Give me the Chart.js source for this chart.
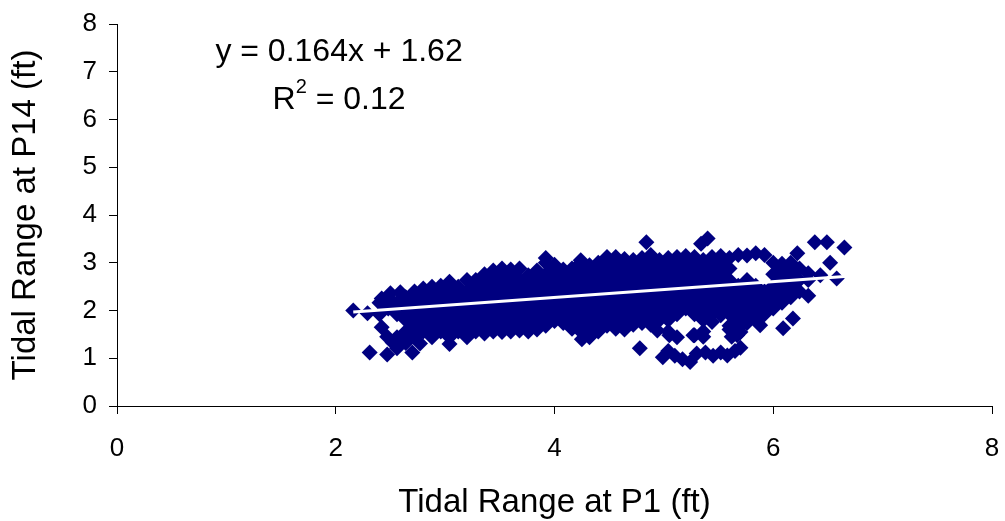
<!DOCTYPE html>
<html>
<head>
<meta charset="utf-8">
<script src="https://cdn.jsdelivr.net/npm/chart.js@4.4.1/dist/chart.umd.min.js"></script>
<style>
  html, body { margin: 0; padding: 0; background: #ffffff; }
  #wrap { width: 1005px; height: 521px; }
</style>
</head>
<body>
<div id="wrap"><canvas id="c" width="1005" height="521"></canvas></div>
<script>
// ---- Data (Tidal Range at P1 vs P14, ft) ----
// Dense body of the cloud: one x per column, list of y values in that column
const coreP1 = [2.40, 2.48, 2.56, 2.64, 2.72, 2.80, 2.88, 2.96, 3.04, 3.12,
                3.20, 3.28, 3.36, 3.44, 3.52, 3.60, 3.68, 3.76, 3.84, 3.92,
                4.00, 4.08, 4.16, 4.24, 4.32, 4.40, 4.48, 4.56, 4.64, 4.72,
                4.80, 4.88, 4.96, 5.04, 5.12, 5.20, 5.28, 5.36, 5.44, 5.52,
                5.60, 5.68, 5.76, 5.84, 5.92, 6.00, 6.08, 6.16, 6.24, 6.32];
const coreP14 = [
  [1.92, 2.16],
  [2.04, 2.28],
  [1.44, 1.92, 2.16],
  [1.32, 1.56, 1.80, 2.04, 2.28],
  [1.44, 1.68, 1.92, 2.16, 2.40],
  [1.56, 1.80, 2.04, 2.28, 2.46],
  [1.44, 1.68, 1.92, 2.16, 2.40, 2.50],
  [1.56, 1.80, 2.04, 2.28, 2.52],
  [1.30, 1.44, 1.68, 1.92, 2.16, 2.40, 2.60],
  [1.56, 1.80, 2.04, 2.28, 2.50],
  [1.44, 1.68, 1.92, 2.16, 2.40, 2.64],
  [1.56, 1.80, 2.04, 2.28, 2.52, 2.64],
  [1.52, 1.68, 1.92, 2.16, 2.40, 2.64, 2.76],
  [1.56, 1.80, 2.04, 2.28, 2.52, 2.76, 2.84],
  [1.55, 1.68, 1.92, 2.16, 2.40, 2.64, 2.88],
  [1.56, 1.80, 2.04, 2.28, 2.52, 2.76, 2.86],
  [1.58, 1.68, 1.92, 2.16, 2.40, 2.64, 2.88],
  [1.56, 1.80, 2.04, 2.28, 2.52, 2.74],
  [1.60, 1.68, 1.92, 2.16, 2.40, 2.64, 2.84],
  [1.68, 1.80, 2.04, 2.28, 2.52, 2.76, 3.00, 3.10],
  [1.78, 1.92, 2.16, 2.40, 2.64, 2.88, 2.96],
  [1.74, 1.80, 2.04, 2.28, 2.52, 2.76, 2.86],
  [1.62, 1.68, 1.92, 2.16, 2.40, 2.64, 2.88],
  [1.56, 1.80, 2.04, 2.28, 2.52, 2.76, 3.00, 3.05],
  [1.44, 1.68, 1.92, 2.16, 2.40, 2.64, 2.88, 2.95],
  [1.56, 1.80, 2.04, 2.28, 2.52, 2.76, 3.00],
  [1.68, 1.92, 2.16, 2.40, 2.64, 2.88, 3.12],
  [1.62, 1.80, 2.04, 2.28, 2.52, 2.76, 3.00, 3.12],
  [1.60, 1.68, 1.92, 2.16, 2.40, 2.64, 2.88, 3.08],
  [1.70, 1.80, 2.04, 2.28, 2.52, 2.76, 3.00, 3.06],
  [1.74, 1.92, 2.16, 2.40, 2.64, 2.88, 3.10],
  [1.70, 1.80, 2.04, 2.28, 2.52, 2.76, 3.00, 3.16],
  [1.80, 1.92, 2.16, 2.40, 2.64, 2.88, 3.06],
  [1.56, 1.80, 2.04, 2.28, 2.52, 2.76, 3.00, 3.10],
  [1.44, 1.92, 2.16, 2.40, 2.64, 2.88, 3.12],
  [2.04, 2.28, 2.52, 2.76, 3.00, 3.14],
  [1.48, 1.92, 2.16, 2.40, 2.64, 2.88, 3.12],
  [1.56, 1.80, 2.04, 2.28, 2.52, 2.76, 3.00, 3.06],
  [1.76, 1.92, 2.16, 2.40, 2.64, 2.88, 3.12],
  [1.90, 2.04, 2.28, 2.52, 2.76, 3.00, 3.14],
  [1.60, 1.68, 1.92, 2.16, 2.40, 2.64, 2.88, 3.10],
  [1.64, 1.80, 2.04, 2.28, 2.52, 3.16],
  [1.74, 1.92, 2.16, 2.40, 2.64, 3.15],
  [1.80, 2.04, 2.28, 2.52, 3.20],
  [1.92, 2.16, 2.40, 3.16],
  [2.04, 2.28, 2.52, 2.76, 3.00],
  [2.16, 2.40, 2.64, 2.88, 2.98],
  [2.28, 2.52, 2.76, 3.00],
  [2.40, 2.64, 2.88],
  [2.64, 2.78]
];
// Scattered points around the edges of the cloud
const edgeP1  = [2.16, 2.29, 2.31, 2.47, 2.42, 2.52, 2.56, 2.70, 2.77, 2.42, 2.59, 2.50, 2.47, 2.62,
                 4.25, 4.78, 4.84, 4.94, 5.05, 5.27, 5.36, 5.34, 5.40, 5.62, 5.67, 5.70, 5.72, 5.88,
                 6.09, 6.18, 6.22, 6.32, 6.38, 6.43, 6.49, 6.52, 6.58, 6.65];
const edgeP14 = [2.00, 1.94, 1.12, 1.08, 1.65, 1.33, 1.21, 1.12, 1.31, 2.25, 2.38, 2.36, 1.45, 1.45,
                 1.40, 1.21, 3.43, 1.58, 1.48, 1.48, 1.45, 3.40, 3.51, 1.45, 1.48, 1.55, 1.72, 1.69,
                 1.63, 1.83, 3.20, 2.31, 3.43, 2.74, 3.43, 3.00, 2.67, 3.32];
// Low row of points under the right half of the cloud
const lowP1  = [4.99, 5.04, 5.10, 5.17, 5.24, 5.30, 5.38, 5.45, 5.52, 5.58, 5.65, 5.70];
const lowP14 = [1.02, 1.15, 1.05, 0.98, 0.92, 1.10, 1.12, 1.05, 1.12, 1.06, 1.15, 1.22];
// Linear trendline end points
const trendP1  = [2.16, 6.65];
const trendP14 = [1.97, 2.71];
// Axis ticks
const xTicks = [0, 2, 4, 6, 8];
const yTicks = [0, 1, 2, 3, 4, 5, 6, 7, 8];
const eqLine1 = 'y = 0.164x + 1.62';
const eqR2 = '0.12';

// ---- Build datasets ----
const points = [];
coreP1.forEach((x, i) => coreP14[i].forEach(y => points.push({ x, y })));
edgeP1.forEach((x, i) => points.push({ x, y: edgeP14[i] }));
lowP1.forEach((x, i) => points.push({ x, y: lowP14[i] }));
const trend = trendP1.map((x, i) => ({ x, y: trendP14[i] }));

const FONT = "'Liberation Sans', Arial, Helvetica, sans-serif";
const NAVY = '#000080';

const eqPlugin = {
  id: 'eq',
  afterDraw(chart) {
    const { ctx, scales } = chart;
    const cx = scales.x.getPixelForValue(2.03);
    const y1 = scales.y.getPixelForValue(7.4);
    const y2 = scales.y.getPixelForValue(6.41);
    ctx.save();
    ctx.fillStyle = '#000';
    ctx.textBaseline = 'middle';
    const big = '32px ' + FONT, small = '20px ' + FONT;
    ctx.font = big;
    ctx.textAlign = 'center';
    ctx.fillText(eqLine1, cx, y1);
    // R^2 = 0.12 with superscript
    const wR = ctx.measureText('R').width;
    const wRest = ctx.measureText(' = ' + eqR2).width;
    ctx.font = small;
    const w2 = ctx.measureText('2').width;
    const total = wR + w2 + wRest;
    const x0 = cx - total / 2;
    ctx.textAlign = 'left';
    ctx.font = big;
    ctx.fillText('R', x0, y2);
    ctx.font = small;
    ctx.fillText('2', x0 + wR, y2 - 12);
    ctx.font = big;
    ctx.fillText(' = ' + eqR2, x0 + wR + w2, y2);
    ctx.restore();
  }
};

new Chart(document.getElementById('c'), {
  type: 'scatter',
  data: {
    datasets: [
      {
        type: 'line',
        label: 'trend',
        data: trend,
        borderColor: '#ffffff',
        borderWidth: 3,
        pointRadius: 0,
        fill: false,
        order: 0
      },
      {
        label: 'P14 vs P1',
        data: points,
        pointStyle: 'rectRot',
        pointRadius: 8,
        pointBackgroundColor: NAVY,
        pointBorderColor: NAVY,
        pointBorderWidth: 0,
        showLine: false,
        order: 1
      }
    ]
  },
  options: {
    responsive: false,
    animation: false,
    devicePixelRatio: 1,
    layout: { padding: { top: 24, right: 13, left: 0, bottom: 0 } },
    plugins: { legend: { display: false }, tooltip: { enabled: false } },
    scales: {
      x: {
        type: 'linear',
        min: 0, max: 8,
        afterBuildTicks: s => { s.ticks = xTicks.map(v => ({ value: v })); },
        afterFit: s => { s.height = 115; s.paddingLeft = 0; s.paddingRight = 0; },
        ticks: { color: '#000', font: { family: FONT, size: 26 }, padding: 19, maxRotation: 0 },
        grid: { drawOnChartArea: false, drawTicks: true, tickLength: 8, color: '#000', lineWidth: 1 },
        border: { display: true, color: '#000', width: 1 },
        title: { display: true, text: 'Tidal Range at P1 (ft)', color: '#000',
                 font: { family: FONT, size: 33 }, padding: { top: 0, bottom: -2 } }
      },
      y: {
        type: 'linear',
        min: 0, max: 8,
        afterBuildTicks: s => { s.ticks = yTicks.map(v => ({ value: v })); },
        afterFit: s => { s.width = 117; s.paddingTop = 0; s.paddingBottom = 0; },
        ticks: { color: '#000', font: { family: FONT, size: 26 }, padding: 12 },
        grid: { drawOnChartArea: false, drawTicks: true, tickLength: 8, color: '#000', lineWidth: 1 },
        border: { display: true, color: '#000', width: 1 },
        title: { display: true, text: 'Tidal Range at P14 (ft)', color: '#000',
                 font: { family: FONT, size: 33 }, padding: { top: 6, bottom: 0 } }
      }
    }
  },
  plugins: [eqPlugin]
});
</script>
</body>
</html>
